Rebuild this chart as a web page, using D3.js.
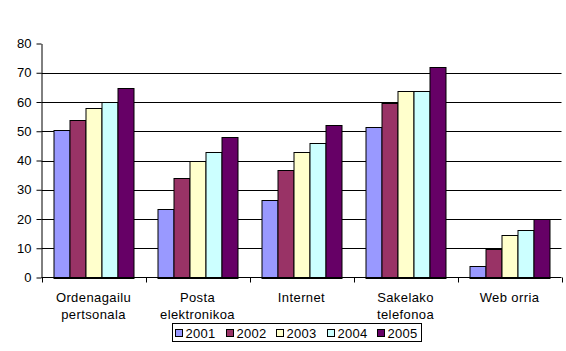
<!DOCTYPE html>
<html>
<head>
<meta charset="utf-8">
<script src="https://cdn.jsdelivr.net/npm/d3@7"></script>
<style>
  body { margin: 0; background: #fff; }
  svg { display: block; font-family: "Liberation Sans", Arial, sans-serif; }
</style>
</head>
<body>
<div id="chart"></div>
<script>
const categories = [
    ["Ordenagailu", "pertsonala"],
    ["Posta", "elektronikoa"],
    ["Internet"],
    ["Sakelako", "telefonoa"],
    ["Web orria"]
];
const years = ["2001", "2002", "2003", "2004", "2005"];
const colors = ["#9999ff", "#993366", "#ffffcc", "#ccffff", "#660066"];

// one array per year, in category order
const v2001 = [50.3, 23.3, 26.4, 51.4, 4.1];
const v2002 = [53.8, 33.9, 36.6, 59.6, 9.7];
const v2003 = [57.8, 39.8, 42.8, 63.7, 14.7];
const v2004 = [60.0, 42.8, 45.9, 63.7, 16.4];
const v2005 = [64.7, 48.0, 52.0, 71.9, 20.0];
const seriesValues = [v2001, v2002, v2003, v2004, v2005];

const yTicks = [0, 10, 20, 30, 40, 50, 60, 70, 80];

const W = 566, H = 351;
const plotLeft = 41.5, plotRight = 561.5, plotTop = 43.5, plotBottom = 277.5;

const svg = d3.select("#chart").append("svg")
    .attr("width", W)
    .attr("height", H);

const catKeys = categories.map(d => d.join(" "));

const x0 = d3.scaleBand()
    .domain(catKeys)
    .range([plotLeft, plotRight])
    .padding(0);

const x1 = d3.scaleBand()
    .domain(years)
    .range([0, x0.bandwidth()])
    .paddingInner(0)
    .paddingOuter(0.75);

const y = d3.scaleLinear()
    .domain([0, 80])
    .range([plotBottom, plotTop]);

// gridlines (none at the top)
svg.append("g")
    .selectAll("line")
    .data(yTicks.filter(t => t > 0 && t < 80))
    .enter().append("line")
    .attr("x1", plotLeft)
    .attr("x2", plotRight)
    .attr("y1", d => Math.round(y(d)) + 0.5)
    .attr("y2", d => Math.round(y(d)) + 0.5)
    .attr("stroke", "#000")
    .attr("stroke-width", 1);

// bars
const groups = svg.append("g")
    .selectAll("g")
    .data(categories)
    .enter().append("g")
    .attr("transform", (d, i) => `translate(${x0(catKeys[i])},0)`);

groups.selectAll("rect")
    .data((d, i) => years.map((yr, j) => ({ yr, j, v: seriesValues[j][i] })))
    .enter().append("rect")
    .attr("x", d => Math.round(x1(d.yr)) + 0.5)
    .attr("y", d => Math.round(y(d.v)) + 0.5)
    .attr("width", Math.round(x1.bandwidth()))
    .attr("height", d => Math.round(plotBottom) - Math.round(y(d.v)))
    .attr("fill", d => colors[d.j])
    .attr("stroke", "#000")
    .attr("stroke-width", 1);

// y axis
const yAxis = svg.append("g")
    .attr("transform", `translate(${plotLeft},0)`)
    .call(d3.axisLeft(y).tickValues(yTicks).tickSize(5).tickPadding(5).tickSizeOuter(0));
yAxis.select(".domain").attr("stroke", "#000");
yAxis.selectAll(".tick line").attr("stroke", "#000");
yAxis.selectAll(".tick text")
    .attr("font-size", 13)
    .attr("font-family", "Liberation Sans, Arial, sans-serif")
    .attr("fill", "#000");

// x axis: ticks between categories
const xAxis = svg.append("g");
xAxis.append("line")
    .attr("x1", plotLeft).attr("x2", plotRight)
    .attr("y1", plotBottom).attr("y2", plotBottom)
    .attr("stroke", "#000");
xAxis.selectAll(".xtick")
    .data(catKeys.map(k => x0(k)).concat([plotRight]))
    .enter().append("line")
    .attr("class", "xtick")
    .attr("x1", d => Math.round(d) + 0.5)
    .attr("x2", d => Math.round(d) + 0.5)
    .attr("y1", plotBottom)
    .attr("y2", plotBottom + 5)
    .attr("stroke", "#000");

const labels = xAxis.selectAll(".xlabel")
    .data(categories)
    .enter().append("text")
    .attr("class", "xlabel")
    .attr("x", (d, i) => x0(catKeys[i]) + x0.bandwidth() / 2)
    .attr("y", 301.5)
    .attr("text-anchor", "middle")
    .attr("font-size", 13)
    .attr("letter-spacing", 0.4)
    .attr("fill", "#000");
labels.selectAll("tspan")
    .data(d => d)
    .enter().append("tspan")
    .attr("x", function () { return d3.select(this.parentNode).attr("x"); })
    .attr("dy", (d, i) => i === 0 ? 0 : 17)
    .text(d => d);

// legend
const legend = svg.append("g");
legend.append("rect")
    .attr("x", 172.5).attr("y", 323.5)
    .attr("width", 249).attr("height", 18)
    .attr("fill", "#fff")
    .attr("stroke", "#000");

const items = legend.selectAll(".item")
    .data(years)
    .enter().append("g")
    .attr("class", "item")
    .attr("transform", (d, i) => `translate(${Math.round(175 + i * 50.5) + 0.5},0)`);
items.append("rect")
    .attr("x", 0).attr("y", 329.5)
    .attr("width", 7).attr("height", 7)
    .attr("fill", (d, i) => colors[i])
    .attr("stroke", "#000");
items.append("text")
    .attr("x", 10).attr("y", 338)
    .attr("font-size", 13)
    .attr("letter-spacing", 0.3)
    .attr("fill", "#000")
    .text(d => d);
</script>
</body>
</html>
